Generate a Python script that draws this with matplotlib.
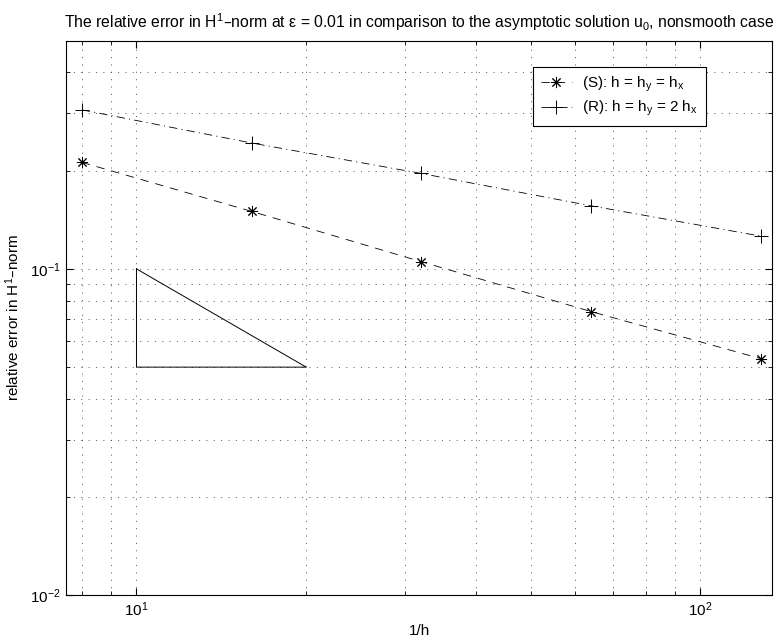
import numpy as np
import matplotlib
matplotlib.use("Agg")
import matplotlib.pyplot as plt

plt.rcParams['font.family'] = ['Liberation Sans', 'DejaVu Sans']
plt.rcParams['mathtext.default'] = 'regular'
plt.rcParams['font.size'] = 11
plt.rcParams['lines.scale_dashes'] = False

# données
n = [8, 16, 32, 64, 128]
err_s = [0.212, 0.150, 0.1052, 0.074, 0.0531]
err_r = [0.307, 0.243, 0.196, 0.156, 0.126]
tri_x = [10, 10, 20, 10]
tri_y = [0.1, 0.05, 0.05, 0.1]

fig = plt.figure(figsize=(7.74, 6.39), dpi=100)
ax = fig.add_axes([0.0853, 0.0684, 0.9121, 0.8679])

asterisk = (8, 2, 0)
ax.loglog(n, err_s, color='k', ls=(0, (6, 5)), lw=0.6, marker=asterisk, ms=8, mew=0.7,
          label='(S): h = h$_y$ = h$_x$')
ax.loglog(n, err_r, color='k', ls=(0, (6, 3, 0.8, 3)), lw=0.6, marker='+', ms=10, mew=0.7,
          label='(R): h = h$_y$ = 2 h$_x$')
ax.plot(tri_x, tri_y, color='k', lw=0.7)

ax.set_xlim(7.5, 134)
ax.set_ylim(0.01, 0.5)

ax.grid(True, which='both', color='0.3', ls=(0, (0.8, 4.5)), lw=0.6)
ax.tick_params(which='both', direction='in', top=True, right=True, labelsize=11)
ax.tick_params(which='major', length=5)
ax.tick_params(which='minor', length=3)
ax.yaxis.set_minor_formatter(matplotlib.ticker.NullFormatter())
ax.xaxis.set_minor_formatter(matplotlib.ticker.NullFormatter())
for s in ax.spines.values():
    s.set_linewidth(0.8)

ax.set_xlabel('1/h', fontsize=11, labelpad=4)
ax.set_ylabel('relative error in H$^1$\u2013norm', fontsize=11, labelpad=6)
ax.set_title('The relative error in H$^1$\u2013norm at \u03b5 = 0.01 in comparison to the '
             'asymptotic solution u$_0$, nonsmooth case', fontsize=11.3, pad=9)

leg = ax.legend(loc='upper right', bbox_to_anchor=(0.906, 0.953), fancybox=False,
                edgecolor='k', framealpha=1, fontsize=11, handlelength=2.0,
                borderpad=0.5, labelspacing=0.35, handletextpad=0.7, borderaxespad=0)
leg.get_frame().set_linewidth(0.8)

fig.savefig('out.png', dpi=100)
